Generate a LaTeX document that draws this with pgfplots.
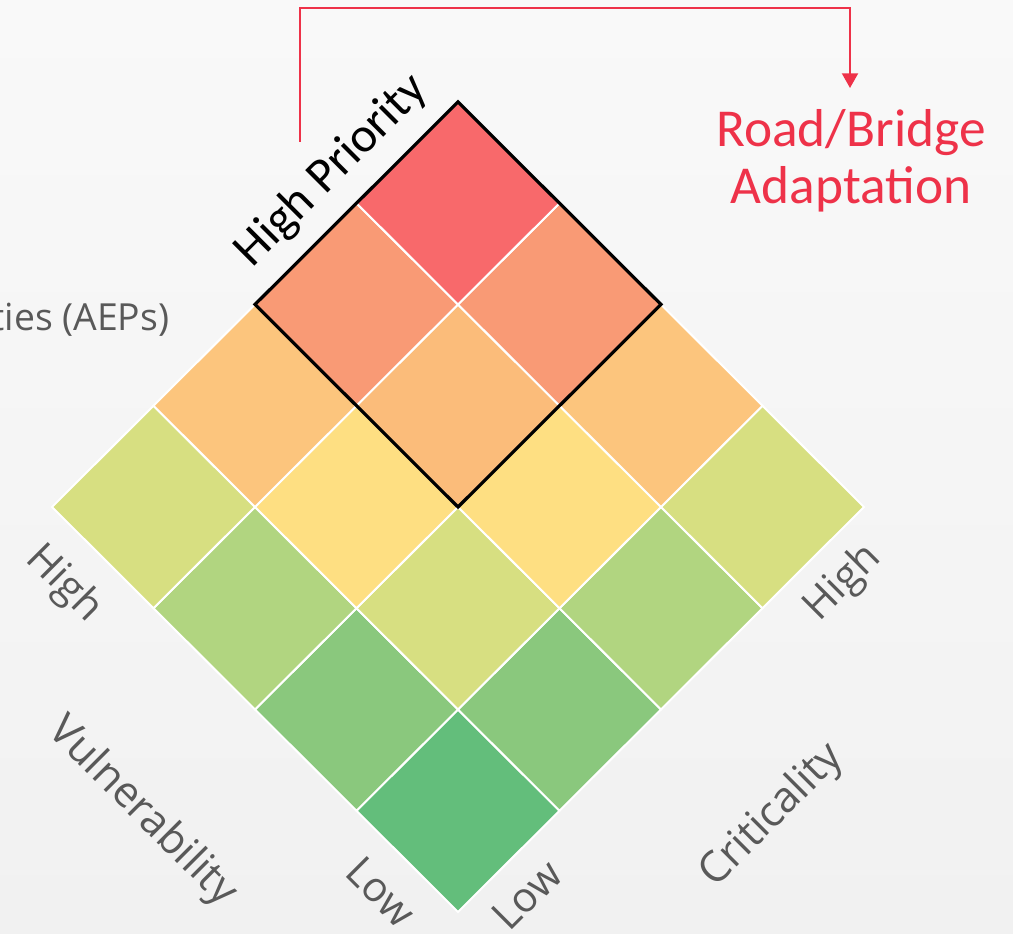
\documentclass[border=0pt]{standalone}
\usepackage{pgfplots}
\pgfplotsset{compat=1.18}
\usepackage{fontspec}
\setmainfont{Open Sans}
\newfontfamily\carlito{Carlito}
\usetikzlibrary{arrows.meta,backgrounds}
\definecolor{cA}{HTML}{63BE7B}
\definecolor{cB}{HTML}{8AC87D}
\definecolor{cC}{HTML}{B1D580}
\definecolor{cD}{HTML}{D7DF81}
\definecolor{cE}{HTML}{FEDF82}
\definecolor{cF}{HTML}{FCC57D}
\definecolor{cG}{HTML}{FBBC7A}
\definecolor{cH}{HTML}{F99A75}
\definecolor{cI}{HTML}{F8696B}
\definecolor{lab}{HTML}{595959}
\definecolor{rd}{HTML}{EE3249}
\definecolor{bgtop}{HTML}{F9F9F9}
\definecolor{bgbot}{HTML}{F1F1F1}
\begin{document}
\begin{tikzpicture}
\begin{axis}[
  x={(76.125pt,75.94pt)}, y={(-76.125pt,75.94pt)},
  disabledatascaling,
  hide axis, clip=false,
  xmin=0, xmax=4, ymin=0, ymax=4,
  every axis plot/.append style={draw=white, line width=1.5pt},
]
% x = criticality (0..4), y = vulnerability (0..4)
\addplot[fill=cA] coordinates {(0,0) (1,0) (1,1) (0,1)} -- cycle;
\addplot[fill=cB] coordinates {(1,0) (2,0) (2,1) (1,1)} -- cycle;
\addplot[fill=cB] coordinates {(0,1) (1,1) (1,2) (0,2)} -- cycle;
\addplot[fill=cC] coordinates {(2,0) (3,0) (3,1) (2,1)} -- cycle;
\addplot[fill=cC] coordinates {(0,2) (1,2) (1,3) (0,3)} -- cycle;
\addplot[fill=cD] coordinates {(1,1) (2,1) (2,2) (1,2)} -- cycle;
\addplot[fill=cD] coordinates {(3,0) (4,0) (4,1) (3,1)} -- cycle;
\addplot[fill=cD] coordinates {(0,3) (1,3) (1,4) (0,4)} -- cycle;
\addplot[fill=cE] coordinates {(2,1) (3,1) (3,2) (2,2)} -- cycle;
\addplot[fill=cE] coordinates {(1,2) (2,2) (2,3) (1,3)} -- cycle;
\addplot[fill=cF] coordinates {(3,1) (4,1) (4,2) (3,2)} -- cycle;
\addplot[fill=cF] coordinates {(1,3) (2,3) (2,4) (1,4)} -- cycle;
\addplot[fill=cG] coordinates {(2,2) (3,2) (3,3) (2,3)} -- cycle;
\addplot[fill=cH] coordinates {(3,2) (4,2) (4,3) (3,3)} -- cycle;
\addplot[fill=cH] coordinates {(2,3) (3,3) (3,4) (2,4)} -- cycle;
\addplot[fill=cI] coordinates {(3,3) (4,3) (4,4) (3,4)} -- cycle;
\draw[black, line width=2.4pt, line join=miter] (axis cs:2,2) -- (axis cs:4,2) -- (axis cs:4,4) -- (axis cs:2,4) -- cycle;
\coordinate (O) at (axis cs:0,0);
\end{axis}
\begin{scope}[shift={(O)}, x=0.75pt, y=-0.75pt, shift={(-458,-912)}]
  \begin{scope}[on background layer]
    \shade[top color=bgtop, bottom color=bgbot] (0,0) rectangle (1013,933);
  \end{scope}
  % arrow
  \draw[rd, line width=1.5pt, -{Triangle[width=12pt,length=11pt]}] (300,142) -- (300,8) -- (850,8) -- (850,88);
  \node[rd, font=\carlito\fontsize{40}{42}\selectfont, anchor=base] at (851,147) {Road/Bridge};
  \node[rd, font=\carlito\fontsize{40}{42}\selectfont, anchor=base] at (851,204) {Adaptation};
  \node[black, font=\carlito\fontsize{37}{39}\selectfont, rotate=45, anchor=base] at (341,180) {High Priority};
  \node[lab, font=\fontsize{28}{30}\selectfont, anchor=base east] at (174,331) {Annual Exceedance Probabilities (AEPs)};
  \node[lab, font=\fontsize{31}{33}\selectfont, rotate=-45] at (64,584) {High};
  \node[lab, font=\fontsize{32}{34}\selectfont, rotate=-45] at (142,812) {Vulnerability};
  \node[lab, font=\fontsize{31}{33}\selectfont, rotate=-45] at (381,892) {Low};
  \node[lab, font=\fontsize{31}{33}\selectfont, rotate=45] at (527,895) {Low};
  \node[lab, font=\fontsize{32}{34}\selectfont, rotate=45] at (772,816) {Criticality};
  \node[lab, font=\fontsize{31}{33}\selectfont, rotate=45] at (843,583) {High};
  \pgfresetboundingbox
  \path[use as bounding box] (0,0) rectangle (1013,933);
\end{scope}
\end{tikzpicture}
\end{document}
